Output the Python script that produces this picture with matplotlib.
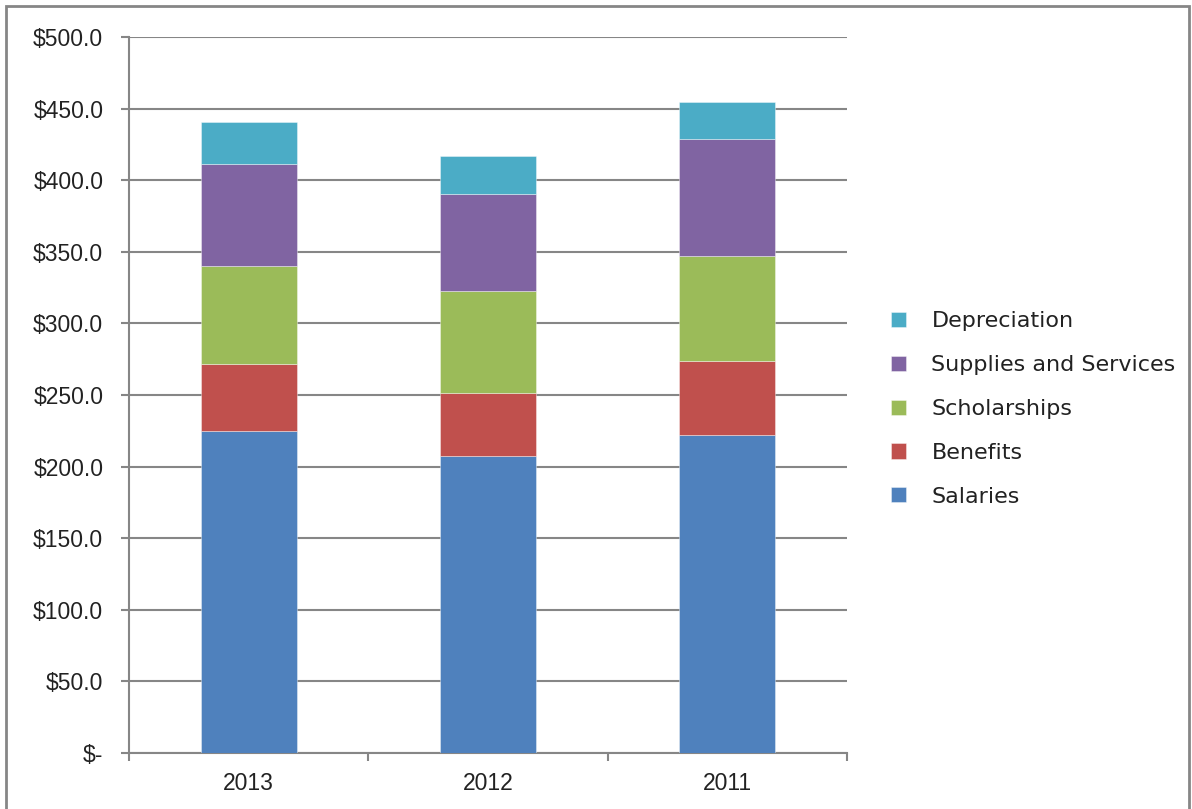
import matplotlib
matplotlib.use("Agg")
import matplotlib.pyplot as plt
import numpy as np
from matplotlib.patches import Rectangle

years = ["2013", "2012", "2011"]
salaries = [224.9, 207.4, 221.9]
benefits = [46.5, 43.8, 52.1]
scholarships = [68.7, 71.4, 73.3]
supplies = [71.0, 68.0, 81.3]
depreciation = [29.3, 26.3, 26.2]

series_names = ["Salaries", "Benefits", "Scholarships", "Supplies and Services", "Depreciation"]
series_vals = [salaries, benefits, scholarships, supplies, depreciation]
colors = ["#4F81BD", "#C0504D", "#9BBB59", "#8064A2", "#4BACC6"]
yticks = [0, 50, 100, 150, 200, 250, 300, 350, 400, 450, 500]
ytick_labels = ["$-", "$50.0", "$100.0", "$150.0", "$200.0", "$250.0", "$300.0",
                "$350.0", "$400.0", "$450.0", "$500.0"]

fig = plt.figure(figsize=(11.92, 8.09), dpi=100)
ax = fig.add_axes([129/1192, 56/809, (847-129)/1192, (753-37)/809])

grid_c = "#868686"
x = np.arange(len(years))
bottom = np.zeros(len(years))
handles = []
for name, vals, c in zip(series_names, series_vals, colors):
    v = np.array(vals)
    b = ax.bar(x, v, width=0.4, bottom=bottom, color=c, label=name,
               edgecolor=(1, 1, 1, 0.45), linewidth=0.6, zorder=3)
    handles.append(b)
    bottom += v

ax.set_xlim(-0.5, 2.5)
ax.set_ylim(0, 500)
ax.set_yticks(yticks)
ax.set_yticklabels(ytick_labels)
ax.set_xticks(x)
ax.set_xticklabels(years)
ax.set_xticks([-0.5, 0.5, 1.5, 2.5], minor=True)
ax.tick_params(axis="x", which="major", length=0, pad=14)
ax.tick_params(axis="x", which="minor", length=5.5, width=1.5, color=grid_c, direction="out")
ax.tick_params(axis="y", which="major", length=5.5, width=1.5, color=grid_c, direction="out", pad=13)
for lab in ax.get_yticklabels() + ax.get_xticklabels():
    lab.set_fontfamily("Liberation Sans")
    lab.set_fontsize(16.5)
    lab.set_color("#222222")

ax.yaxis.grid(True, color=grid_c, linewidth=1.5, zorder=0)
ax.set_axisbelow(True)
for s in ["top", "right"]:
    ax.spines[s].set_visible(False)
for s in ["left", "bottom"]:
    ax.spines[s].set_color(grid_c)
    ax.spines[s].set_linewidth(1.5)

leg = fig.legend(handles[::-1], series_names[::-1], loc="center left",
                 bbox_to_anchor=(871/1192, (809-409)/809), frameon=False,
                 prop={"family": "DejaVu Sans", "size": 16}, handlelength=0.67,
                 handleheight=0.67, handletextpad=1.15, labelspacing=1.07)
for t in leg.get_texts():
    t.set_color("#222222")

fig.patches.append(Rectangle((6/1192, -0.02), (1189-6)/1192, (809-6)/809 + 0.02,
                             transform=fig.transFigure, fill=False,
                             edgecolor=grid_c, linewidth=2))

fig.savefig("out.png", dpi=100)
